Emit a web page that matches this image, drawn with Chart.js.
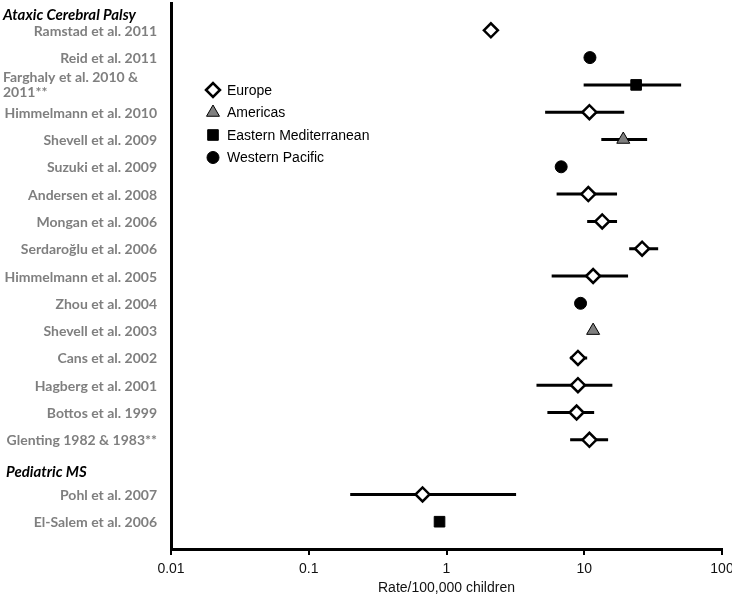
<!DOCTYPE html>
<html>
<head>
<meta charset="utf-8">
<script src="https://cdn.jsdelivr.net/npm/chart.js"></script>
<style>
  html, body { margin: 0; padding: 0; background: #fff; }
  #wrap { width: 732px; height: 596px; }
</style>
</head>
<body>
<div id="wrap"><canvas id="forest" width="732" height="596"></canvas></div>
<script>
// studies, top to bottom (row number on the y axis)
const studies = [
  'Ramstad et al. 2011', 'Reid et al. 2011', 'Farghaly et al. 2010 &\n2011**',
  'Himmelmann et al. 2010', 'Shevell et al. 2009', 'Suzuki et al. 2009',
  'Andersen et al. 2008', 'Mongan et al. 2006', 'Serdaroğlu et al. 2006',
  'Himmelmann et al. 2005', 'Zhou et al. 2004', 'Shevell et al. 2003',
  'Cans et al. 2002', 'Hagberg et al. 2001', 'Bottos et al. 1999',
  'Glenting 1982 & 1983**', 'Pohl et al. 2007', 'El-Salem et al. 2006'
];
const rows = [1, 2, 3, 4, 5, 6, 7, 8, 9, 10, 11, 12, 13, 14, 15, 16, 18, 19];
const regionOf = [
  'Europe', 'Western Pacific', 'Eastern Mediterranean', 'Europe', 'Americas',
  'Western Pacific', 'Europe', 'Europe', 'Europe', 'Europe', 'Western Pacific',
  'Americas', 'Europe', 'Europe', 'Europe', 'Europe', 'Europe', 'Eastern Mediterranean'
];
const rate   = [2.1, 11.0, 23.8, 10.9, 19.2, 6.8, 10.7, 13.5, 26.3, 11.6, 9.4, 11.6, 9.0, 9.0, 8.8, 10.9, 0.67, 0.89];
const ciLow  = [null, null, 9.9, 5.2, 13.3, null, 6.3, 10.5, 21.2, 5.8, null, null, 7.9, 4.5, 5.4, 7.9, 0.2, null];
const ciHigh = [null, null, 50.5, 19.5, 28.6, null, 17.3, 17.3, 34.4, 20.8, null, null, 10.5, 16.0, 11.8, 14.9, 3.2, null];

const groupNames = ['Ataxic Cerebral Palsy', 'Pediatric MS'];
const groupRows = [0.45, 17.2];

const regions = ['Europe', 'Americas', 'Eastern Mediterranean', 'Western Pacific'];
const xTicks = [0.01, 0.1, 1, 10, 100];

// marker look per region
const markerStyle = {
  'Europe': { pointStyle: 'rectRot', radius: 7, fill: '#ffffff', border: '#000000', width: 2.5 },
  'Americas': { pointStyle: 'triangle', radius: 7.5, fill: '#7f7f7f', border: '#000000', width: 1 },
  'Eastern Mediterranean': { pointStyle: 'rect', radius: 7.5, fill: '#000000', border: '#000000', width: 1 },
  'Western Pacific': { pointStyle: 'circle', radius: 6, fill: '#000000', border: '#000000', width: 1 }
};

const datasets = regions.map(r => {
  const s = markerStyle[r];
  return {
    type: 'scatter',
    label: r,
    data: rate.map((v, i) => ({ x: v, y: rows[i], reg: regionOf[i] })).filter(p => p.reg === r),
    pointStyle: s.pointStyle,
    pointRadius: s.radius,
    pointBackgroundColor: s.fill,
    pointBorderColor: s.border,
    pointBorderWidth: s.width,
    order: 0
  };
});

// confidence intervals as broken line segments
const ciData = [];
rate.forEach((v, i) => {
  if (ciLow[i] == null) return;
  ciData.push({ x: ciLow[i], y: rows[i] }, { x: ciHigh[i], y: rows[i] }, { x: ciHigh[i], y: null });
});
datasets.push({
  type: 'line',
  label: 'CI',
  data: ciData,
  borderColor: '#000000',
  borderWidth: 3,
  pointRadius: 0,
  spanGaps: false,
  fill: false,
  order: 10
});

function drawMarker(ctx, style, x, y) {
  const r = style.radius;
  ctx.save();
  ctx.fillStyle = style.fill;
  ctx.strokeStyle = style.border;
  ctx.lineWidth = style.width;
  ctx.beginPath();
  if (style.pointStyle === 'rectRot') {
    ctx.moveTo(x - r, y); ctx.lineTo(x, y - r); ctx.lineTo(x + r, y); ctx.lineTo(x, y + r);
    ctx.closePath();
  } else if (style.pointStyle === 'triangle') {
    const a = Math.PI * 2 / 3;
    ctx.moveTo(x, y - r);
    ctx.lineTo(x + Math.sin(a) * r, y - Math.cos(a) * r);
    ctx.lineTo(x - Math.sin(a) * r, y - Math.cos(a) * r);
    ctx.closePath();
  } else if (style.pointStyle === 'rect') {
    const h = r * Math.SQRT1_2;
    ctx.rect(x - h, y - h, 2 * h, 2 * h);
  } else {
    ctx.arc(x, y, r, 0, Math.PI * 2);
  }
  ctx.fill();
  ctx.stroke();
  ctx.restore();
}

const labelPlugin = {
  id: 'forestLabels',
  afterDraw(chart) {
    const ctx = chart.ctx;
    const y = chart.scales.y;
    ctx.save();
    ctx.textBaseline = 'middle';
    // study labels
    ctx.font = 'bold 14px Lato';
    ctx.fillStyle = '#7f7f7f';
    studies.forEach((name, i) => {
      const py = y.getPixelForValue(rows[i]);
      const parts = name.split('\n');
      if (parts.length > 1) {
        ctx.textAlign = 'left';
        ctx.fillText(parts[0], 3, py - 7.5);
        ctx.fillText(parts[1], 3, py + 7.5);
      } else {
        ctx.textAlign = 'right';
        ctx.fillText(name, 157, py + 1);
      }
    });
    // group headers
    ctx.font = 'italic bold 15px Lato';
    ctx.fillStyle = '#000000';
    ctx.textAlign = 'left';
    groupNames.forEach((g, i) => {
      ctx.fillText(g, i === 0 ? 3 : 6, y.getPixelForValue(groupRows[i]));
    });
    // legend
    ctx.font = '14px "Liberation Sans", Arial, sans-serif';
    regions.forEach((r, i) => {
      const ly = 90 + i * 22.5;
      drawMarker(ctx, markerStyle[r], 213, ly);
      ctx.fillStyle = '#000000';
      ctx.fillText(r, 227, ly + 1);
    });
    ctx.restore();
  }
};

new Chart(document.getElementById('forest'), {
  data: { datasets: datasets },
  options: {
    responsive: false,
    animation: false,
    layout: { autoPadding: false, padding: { top: 3, right: 0, bottom: 0, left: 0 } },
    plugins: { legend: { display: false }, tooltip: { enabled: false } },
    scales: {
      x: {
        type: 'logarithmic',
        min: 0.01,
        max: 100,
        afterBuildTicks: s => { s.ticks = xTicks.map(v => ({ value: v })); },
        afterFit: s => {
          s.height = 47;
          s.paddingLeft = 0; s.paddingRight = 10; s.paddingTop = 0; s.paddingBottom = 0;
        },
        ticks: {
          color: '#111',
          font: { family: '"Liberation Sans", Arial, sans-serif', size: 14, lineHeight: 1 },
          padding: 7,
          maxRotation: 0,
          callback: v => String(v)
        },
        grid: { drawOnChartArea: false, color: '#000', lineWidth: 2, tickLength: 6 },
        border: { color: '#000', width: 3 },
        title: {
          display: true,
          text: 'Rate/100,000 children',
          color: '#111',
          font: { family: '"Liberation Sans", Arial, sans-serif', size: 14, lineHeight: 1 },
          padding: { top: 5, bottom: 1 }
        }
      },
      y: {
        type: 'linear',
        reverse: true,
        min: 0,
        max: 20,
        afterFit: s => {
          s.width = 171;
          s.paddingTop = 0; s.paddingBottom = 0; s.paddingLeft = 0; s.paddingRight = 0;
        },
        ticks: { display: false },
        grid: { display: true, drawOnChartArea: false, drawTicks: false },
        border: { color: '#000', width: 3 }
      }
    }
  },
  plugins: [labelPlugin]
});
</script>
</body>
</html>
